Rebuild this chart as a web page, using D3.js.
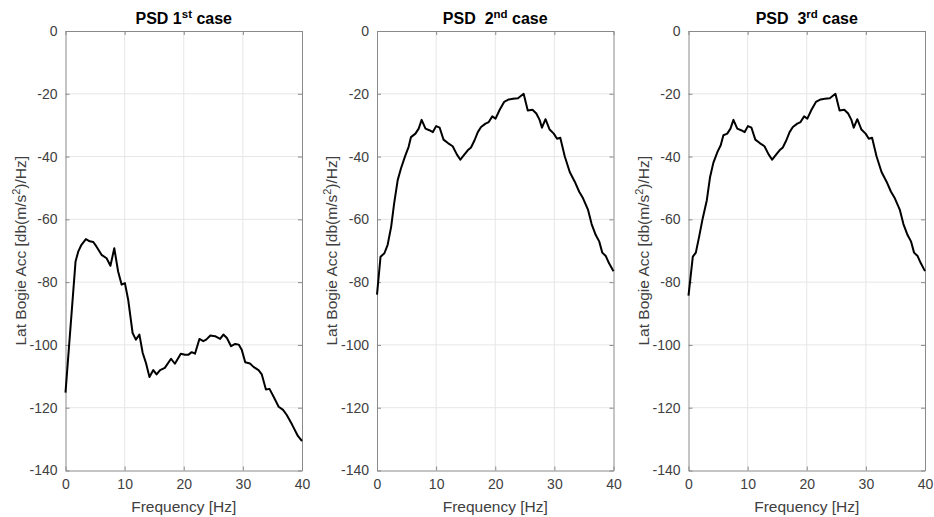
<!DOCTYPE html>
<html>
<head>
<meta charset="utf-8">
<script src="https://cdn.jsdelivr.net/npm/d3@7"></script>
<style>
  html, body { margin: 0; padding: 0; background: #fff; }
  svg { display: block; }
  text { font-family: "Liberation Sans", Arial, Helvetica, sans-serif; }
</style>
</head>
<body>
<svg id="chart" width="934" height="517"></svg>
<script>
// ---------------- data ----------------
const xTicks = [0, 10, 20, 30, 40];
const yTicks = [0, -20, -40, -60, -80, -100, -120, -140];

const case1Freq = [0, 1.7, 2.15, 2.7, 3.45, 4.1, 4.7, 5.25, 6.1, 6.95, 7.6, 8.25, 8.9, 9.5, 10.05, 10.6, 11.35, 11.9, 12.5, 13.05, 13.6, 14.2, 14.85, 15.4, 16, 16.8, 17.85, 18.5, 19.5, 20.2, 20.8, 21.35, 21.9, 22.65, 23.3, 23.8, 24.5, 25.3, 26.15, 26.7, 27.3, 28, 28.7, 29.3, 29.8, 30.4, 31.2, 31.8, 32.65, 33.2, 33.9, 34.5, 35.2, 36.05, 36.8, 37.45, 38.3, 39.3, 40];
const case1PSD = [-115.2, -73.4, -70.3, -68.1, -66.3, -67, -67.2, -68.7, -71.3, -72.4, -74.8, -69.2, -76.6, -80.8, -80.3, -85.6, -96.2, -98.3, -96.7, -102.5, -105.7, -110.2, -108, -109.4, -108, -107.3, -104.4, -106, -102.8, -103.1, -103.1, -102.3, -102.8, -98.1, -98.8, -98.3, -97, -97.2, -98.1, -96.7, -97.8, -100.4, -99.7, -99.9, -101.5, -105.5, -105.9, -107, -108, -109.4, -114.2, -114, -116.5, -119.7, -120.7, -122.4, -125.3, -129, -130.6];

const case2Freq = [0, 0.6, 1.25, 1.8, 2.4, 2.9, 3.5, 4.05, 4.8, 5.35, 5.75, 6.5, 7.05, 7.55, 8.2, 8.85, 9.45, 10, 10.6, 11.25, 12, 12.8, 13.5, 14.1, 14.8, 15.35, 15.9, 16.5, 17.05, 17.6, 18.35, 18.9, 19.5, 20.05, 20.75, 21.5, 22.3, 23, 23.85, 24.8, 25.5, 26.3, 26.95, 27.5, 27.9, 28.5, 29.2, 29.9, 30.45, 31, 31.75, 32.6, 33.45, 34.2, 34.85, 35.7, 36.3, 37, 37.6, 38.1, 38.7, 39.25, 40];
const case2PSD = [-84, -71.9, -70.8, -68.1, -62.3, -54.9, -47.5, -43.8, -39.6, -36.9, -33.8, -32.7, -31.1, -28.3, -31.1, -31.6, -32.2, -30.3, -30.8, -34.6, -35.7, -36.7, -39.3, -41, -39.3, -38, -37.1, -34.8, -32.2, -30.6, -29.5, -29, -27.2, -27.9, -25.1, -22.6, -21.8, -21.6, -21.4, -20, -25.3, -25.1, -26.3, -28.3, -30.8, -28.1, -31.4, -32.7, -34.3, -34, -39.9, -44.9, -48, -51.2, -53.3, -57, -61.5, -65, -67.1, -70.6, -71.7, -74, -76.5];

const case3Freq = [0, 0.73, 1.24, 1.8, 2.4, 3.1, 3.65, 4.2, 4.9, 5.45, 5.9, 6.55, 7.1, 7.6, 8.25, 8.9, 9.5, 10.05, 10.65, 11.3, 12.05, 12.85, 13.55, 14.15, 14.85, 15.4, 15.95, 16.55, 17.1, 17.65, 18.4, 18.95, 19.55, 20.1, 20.8, 21.55, 22.35, 23.05, 23.9, 24.85, 25.55, 26.35, 27, 27.55, 27.95, 28.55, 29.25, 29.95, 30.5, 31.05, 31.8, 32.65, 33.5, 34.25, 34.9, 35.75, 36.35, 37.05, 37.65, 38.15, 38.75, 39.3, 40];
const case3PSD = [-84.3, -71.9, -70.6, -65.5, -59.7, -53.9, -46.5, -42, -38.5, -36.4, -33.2, -32.7, -31.1, -28.3, -31.1, -31.6, -32.2, -30.3, -30.8, -34.6, -35.7, -36.7, -39.3, -41, -39.3, -38, -37.1, -34.8, -32.2, -30.6, -29.5, -29, -27.2, -27.9, -25.1, -22.6, -21.8, -21.6, -21.4, -20, -25.3, -25.1, -26.3, -28.3, -30.8, -28.1, -31.4, -32.7, -34.3, -34, -39.9, -44.9, -48, -51.2, -53.3, -57, -61.5, -65, -67.1, -70.6, -71.7, -74, -76.5];

const titles = [
  { pre: "PSD 1", sup: "st", post: " case" },
  { pre: "PSD\u00a0 2", sup: "nd", post: " case" },
  { pre: "PSD\u00a0 3", sup: "rd", post: " case" }
];
const seriesFreq = [case1Freq, case2Freq, case3Freq];
const seriesPSD = [case1PSD, case2PSD, case3PSD];

// ---------------- layout ----------------
const panelLeft = [65.5, 377, 688.5];
const panelW = 236.5;
const plotTop = 31, plotBottom = 470.5;

const svg = d3.select("#chart");
const axisColor = "#8a8a8a";
const textColor = "#404040";
const gridColor = "#e6e6e6";
const plainFmt = d => String(d);

panelLeft.forEach((left, i) => {
  const x = d3.scaleLinear().domain([0, 40]).range([left, left + panelW]);
  const y = d3.scaleLinear().domain([-140, 0]).range([plotBottom, plotTop]);
  const g = svg.append("g");

  // grid
  g.append("g").selectAll("line").data(xTicks.slice(1, -1)).join("line")
    .attr("x1", d => x(d)).attr("x2", d => x(d))
    .attr("y1", plotTop).attr("y2", plotBottom)
    .attr("stroke", gridColor).attr("stroke-width", 1);
  g.append("g").selectAll("line").data(yTicks.slice(1, -1)).join("line")
    .attr("x1", left).attr("x2", left + panelW)
    .attr("y1", d => y(d)).attr("y2", d => y(d))
    .attr("stroke", gridColor).attr("stroke-width", 1);

  // axes with inward ticks
  const tl = 4;
  const axB = g.append("g").attr("transform", `translate(0,${plotBottom})`)
    .call(d3.axisBottom(x).tickValues(xTicks).tickFormat(plainFmt).tickSizeInner(-tl).tickSizeOuter(0).tickPadding(9));
  const axT = g.append("g").attr("transform", `translate(0,${plotTop})`)
    .call(d3.axisTop(x).tickValues(xTicks).tickSizeInner(-tl).tickSizeOuter(0).tickFormat(""));
  const axL = g.append("g").attr("transform", `translate(${left},0)`)
    .call(d3.axisLeft(y).tickValues(yTicks).tickFormat(plainFmt).tickSizeInner(-tl).tickSizeOuter(0).tickPadding(8));
  const axR = g.append("g").attr("transform", `translate(${left + panelW},0)`)
    .call(d3.axisRight(y).tickValues(yTicks).tickSizeInner(-tl).tickSizeOuter(0).tickFormat(""));
  [axB, axT, axL, axR].forEach(a => {
    a.select(".domain").attr("stroke", axisColor).attr("stroke-width", 1);
    a.selectAll(".tick line").attr("stroke", axisColor);
    a.selectAll(".tick text").attr("fill", textColor)
      .style("font-family", '"Liberation Sans", Arial, sans-serif').style("font-size", "14px");
  });
  axB.selectAll(".tick text").attr("dy", "0.71em");

  // line
  const pts = seriesFreq[i].map((f, k) => [f, seriesPSD[i][k]]);
  g.append("path").datum(pts)
    .attr("fill", "none").attr("stroke", "#000").attr("stroke-width", 2)
    .attr("stroke-linejoin", "round")
    .attr("d", d3.line().x(d => x(d[0])).y(d => y(d[1])));

  // title
  const t = g.append("text").attr("x", left + panelW / 2).attr("y", 24)
    .attr("text-anchor", "middle").attr("font-weight", "bold")
    .attr("font-size", "16px").attr("fill", "#000");
  t.append("tspan").text(titles[i].pre);
  t.append("tspan").text(titles[i].sup).attr("font-size", "11.5px").attr("dy", "-6");
  t.append("tspan").text(titles[i].post).attr("dy", "6");

  // x label
  g.append("text").attr("x", left + panelW / 2).attr("y", 512)
    .attr("text-anchor", "middle").attr("font-size", "15.5px").attr("fill", textColor)
    .text("Frequency [Hz]");

  // y label
  const yl = g.append("text")
    .attr("transform", `translate(${left - 40},${(plotTop + plotBottom) / 2}) rotate(-90)`)
    .attr("text-anchor", "middle").attr("font-size", "15.5px").attr("fill", textColor);
  yl.append("tspan").text("Lat Bogie Acc [db(m/s");
  yl.append("tspan").text("2").attr("font-size", "11px").attr("dy", "-6");
  yl.append("tspan").text(")/Hz]").attr("dy", "6");
});
</script>
</body>
</html>
